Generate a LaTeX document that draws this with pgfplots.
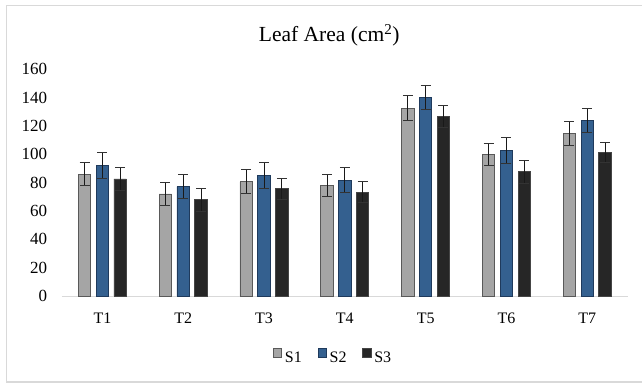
\documentclass[border=0pt]{standalone}
\usepackage{fontspec}
\setmainfont{Liberation Serif}
\usepackage{pgfplots}
\pgfplotsset{compat=1.18}
\usepackage{pgfplotstable}
\definecolor{fS1}{HTML}{A5A5A5}
\definecolor{dS1}{HTML}{595959}
\definecolor{fS2}{HTML}{34608F}
\definecolor{dS2}{HTML}{1F3A5C}
\definecolor{fS3}{HTML}{262626}
\definecolor{dS3}{HTML}{454545}
\pgfplotsset{sqlegend/.style={legend image code/.code={\draw[##1] (0pt,0.8pt) rectangle (8.5pt,9.3pt);}}}

\pgfplotstableread{
x y e
0 86.0 8.0
1 72.0 8.0
2 80.5 8.5
3 77.9 8.0
4 132.5 8.7
5 100.0 7.8
6 114.6 8.7
}\Sone
\pgfplotstableread{
x y e
0 92.0 9.2
1 77.2 8.7
2 85.2 9.2
3 81.7 8.9
4 140.0 8.7
5 102.6 9.4
6 124.0 8.5
}\Stwo
\pgfplotstableread{
x y e
0 82.6 7.8
1 67.8 8.0
2 75.7 7.4
3 73.2 7.3
4 126.6 8.0
5 87.7 8.1
6 101.2 7.3
}\Sthree

\begin{document}
\begin{tikzpicture}
\useasboundingbox (-62pt,-87pt) rectangle (580pt,296pt);
\draw[color=black!15, line width=1.2pt] (645pt,290.3pt) -- (-55.3pt,290.3pt) -- (-55.3pt,-86pt) -- (645pt,-86pt);
\begin{axis}[
  scale only axis, width=565.7pt, height=226.7pt,
  xmin=-0.5, xmax=6.5, ymin=0, ymax=160,
  ybar=5.3pt, bar width=12.5pt,
  axis lines=left, axis line style={-},
  y axis line style={draw=none},
  x axis line style={draw=black!15, line width=1pt},
  major tick length=0pt,
  xtick={0,...,6}, xticklabels={T1,T2,T3,T4,T5,T6,T7},
  ytick={0,20,...,160},
  /pgf/number format/assume math mode=true,
  yticklabel style={font=\fontsize{17}{17}\selectfont, anchor=east, inner sep=0pt, xshift=-14.7pt},
  xticklabel style={font=\fontsize{16}{16}\selectfont, anchor=base, inner sep=0pt, yshift=-27.3pt},
  legend style={at={(0.3725,-0.266)}, anchor=west, draw=none, fill=none,
    font=\fontsize{16}{16}\selectfont, inner sep=0pt, nodes={inner sep=0pt},
    /tikz/every odd column/.append style={column sep=2.6pt},
    /tikz/every even column/.append style={column sep=15.8pt}},
  legend columns=-1,
  clip=false,
  error bars/y dir=both, error bars/y explicit,
  error bars/error bar style={line width=1pt, black!90},
  error bars/error mark options={rotate=90, mark size=5pt, line width=1pt, black!80},
]
\addplot[sqlegend, fill=fS1, draw=dS1, line width=0.9pt] table[x=x, y=y, y error=e] {\Sone};
\addplot[sqlegend, fill=fS2, draw=dS2, line width=0.9pt] table[x=x, y=y, y error=e] {\Stwo};
\addplot[sqlegend, fill=fS3, draw=dS3, line width=0.9pt] table[x=x, y=y, y error=e] {\Sthree};
\legend{S1,S2,S3}
\end{axis}
\node[anchor=base, font=\fontsize{21.5}{21.5}\selectfont] at (267.2pt,254.3pt) {Leaf Area (cm\textsuperscript{2})};
\end{tikzpicture}
\end{document}
